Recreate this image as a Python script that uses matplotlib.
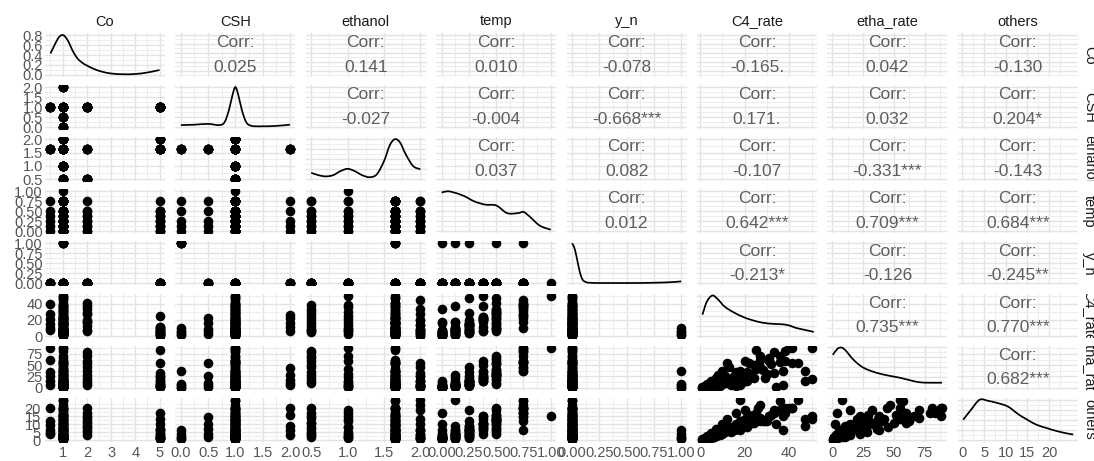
import numpy as np
import matplotlib
matplotlib.use("Agg")
import matplotlib.pyplot as plt
from matplotlib.path import Path
from matplotlib.patches import PathPatch

plt.rcParams['font.family'] = ['Liberation Sans', 'DejaVu Sans']

var_names = ["Co", "CSH", "ethanol", "temp", "y_n", "C4_rate", "etha_rate", "others"]

# ---------------- observations (one entry per run, grouped by catalyst) -------------
Co = [
    1, 1, 1, 1, 1,              # A1
    2, 2, 2, 2, 2,              # A2
    1, 1, 1, 1, 1, 1, 1,        # A3
    0.5, 0.5, 0.5, 0.5, 0.5, 0.5,  # A4
    2, 2, 2, 2, 2, 2,           # A5
    5, 5, 5, 5, 5, 5,           # A6
    1, 1, 1, 1, 1, 1,           # A7
    1, 1, 1, 1, 1, 1,           # A8
    1, 1, 1, 1, 1, 1,           # A9
    5, 5, 5, 5, 5,              # A10
    1, 1, 1, 1, 1,              # A11
    1, 1, 1, 1, 1,              # A12
    1, 1, 1, 1, 1,              # A13
    5, 5, 5, 5, 5,              # A14
    1, 1, 1, 1, 1,              # B1
    1, 1, 1, 1, 1,              # B2
    1, 1, 1, 1, 1,              # B3
    1, 1, 1, 1, 1,              # B4
    1, 1, 1, 1, 1,              # B5
    1, 1, 1, 1, 1,              # B6
    1, 1, 1, 1, 1,              # B7
]
CSH = [
    1, 1, 1, 1, 1,
    1, 1, 1, 1, 1,
    1, 1, 1, 1, 1, 1, 1,
    1, 1, 1, 1, 1, 1,
    1, 1, 1, 1, 1, 1,
    1, 1, 1, 1, 1, 1,
    1, 1, 1, 1, 1, 1,
    1, 1, 1, 1, 1, 1,
    1, 1, 1, 1, 1, 1,
    1, 1, 1, 1, 1,
    0, 0, 0, 0, 0,
    1, 1, 1, 1, 1,
    1, 1, 1, 1, 1,
    1, 1, 1, 1, 1,
    1, 1, 1, 1, 1,
    1, 1, 1, 1, 1,
    1, 1, 1, 1, 1,
    1, 1, 1, 1, 1,
    1, 1, 1, 1, 1,
    0.5, 0.5, 0.5, 0.5, 0.5,
    2, 2, 2, 2, 2,
]
ethanol = [
    1.65, 1.65, 1.65, 1.65, 1.65,
    1.65, 1.65, 1.65, 1.65, 1.65,
    1.0, 1.0, 1.0, 1.0, 1.0, 1.0, 1.0,
    1.65, 1.65, 1.65, 1.65, 1.65, 1.65,
    0.5, 0.5, 0.5, 0.5, 0.5, 0.5,
    1.65, 1.65, 1.65, 1.65, 1.65, 1.65,
    0.5, 0.5, 0.5, 0.5, 0.5, 0.5,
    1.0, 1.0, 1.0, 1.0, 1.0, 1.0,
    2.0, 2.0, 2.0, 2.0, 2.0, 2.0,
    2.0, 2.0, 2.0, 2.0, 2.0,
    1.65, 1.65, 1.65, 1.65, 1.65,
    1.65, 1.65, 1.65, 1.65, 1.65,
    1.65, 1.65, 1.65, 1.65, 1.65,
    1.65, 1.65, 1.65, 1.65, 1.65,
    1.65, 1.65, 1.65, 1.65, 1.65,
    1.65, 1.65, 1.65, 1.65, 1.65,
    1.65, 1.65, 1.65, 1.65, 1.65,
    1.65, 1.65, 1.65, 1.65, 1.65,
    2.0, 2.0, 2.0, 2.0, 2.0,
    1.65, 1.65, 1.65, 1.65, 1.65,
    1.65, 1.65, 1.65, 1.65, 1.65,
]
temp = [
    0, 0.125, 0.25, 0.375, 0.5,
    0, 0.125, 0.25, 0.375, 0.5,
    0, 0.125, 0.25, 0.375, 0.5, 0.75, 1.0,
    0, 0.125, 0.25, 0.375, 0.5, 0.75,
    0, 0.125, 0.25, 0.375, 0.5, 0.75,
    0, 0.125, 0.25, 0.375, 0.5, 0.75,
    0, 0.125, 0.25, 0.375, 0.5, 0.75,
    0, 0.125, 0.25, 0.375, 0.5, 0.75,
    0, 0.125, 0.25, 0.375, 0.5, 0.75,
    0, 0.125, 0.25, 0.375, 0.5,
    0, 0.125, 0.25, 0.5, 0.75,
    0, 0.125, 0.25, 0.375, 0.5,
    0, 0.125, 0.25, 0.375, 0.5,
    0, 0.125, 0.25, 0.375, 0.5,
    0, 0.125, 0.25, 0.5, 0.75,
    0, 0.125, 0.25, 0.5, 0.75,
    0, 0.125, 0.25, 0.5, 0.75,
    0, 0.125, 0.25, 0.5, 0.75,
    0, 0.125, 0.25, 0.5, 0.75,
    0, 0.125, 0.25, 0.5, 0.75,
    0, 0.125, 0.25, 0.5, 0.75,
]
y_n = [
    0, 0, 0, 0, 0,
    0, 0, 0, 0, 0,
    0, 0, 0, 0, 0, 0, 0,
    0, 0, 0, 0, 0, 0,
    0, 0, 0, 0, 0, 0,
    0, 0, 0, 0, 0, 0,
    0, 0, 0, 0, 0, 0,
    0, 0, 0, 0, 0, 0,
    0, 0, 0, 0, 0, 0,
    0, 0, 0, 0, 0,
    1, 1, 1, 1, 1,
    0, 0, 0, 0, 0,
    0, 0, 0, 0, 0,
    0, 0, 0, 0, 0,
    0, 0, 0, 0, 0,
    0, 0, 0, 0, 0,
    0, 0, 0, 0, 0,
    0, 0, 0, 0, 0,
    0, 0, 0, 0, 0,
    0, 0, 0, 0, 0,
    0, 0, 0, 0, 0,
]
C4_rate = [
    34, 37, 47, 50, 47,
    18, 17, 29, 37, 41,
    6, 9, 14, 21, 30, 38, 50,
    8, 10, 15, 21, 27, 40,
    6, 8, 13, 20, 27, 33,
    2, 3, 5, 7, 10, 25,
    5, 9, 16, 24, 31, 38,
    3, 6, 10, 17, 25, 36,
    4, 8, 14, 20, 33, 44,
    1, 2, 4, 6, 9,
    2, 3, 5, 7, 10,
    16, 18, 20, 24, 28,
    5, 9, 15, 22, 32,
    3, 5, 8, 11, 12,
    2, 4, 8, 16, 36,
    3, 6, 11, 23, 41,
    1, 2, 4, 9, 18,
    2, 4, 7, 14, 31,
    4, 8, 14, 20, 27,
    3, 6, 9, 16, 22,
    7, 11, 16, 22, 26,
]
etha_rate = [
    2, 6, 15, 20, 37,
    5, 10, 21, 38, 55,
    1, 3, 8, 16, 30, 60, 88,
    7, 14, 25, 36, 62, 88,
    14, 28, 45, 60, 70, 79,
    4, 8, 14, 22, 33, 83,
    10, 22, 36, 50, 66, 81,
    2, 5, 12, 24, 42, 70,
    1, 3, 7, 14, 32, 55,
    2, 4, 8, 14, 25,
    0.5, 2, 5, 9, 38,
    4, 8, 14, 22, 40,
    2, 6, 14, 28, 52,
    1, 4, 9, 27, 55,
    1, 3, 7, 19, 57,
    2, 5, 10, 30, 89,
    0.3, 1, 3, 10, 37,
    1, 3, 6, 17, 60,
    2, 7, 14, 25, 47,
    2, 5, 10, 26, 55,
    7, 11, 18, 29, 44,
]
others = [
    10, 6, 9, 13, 13,
    6, 9, 12, 15, 20,
    2, 3, 5, 8, 12, 17, 15,
    3.5, 4.6, 6.5, 9.5, 12, 20,
    3, 5, 8, 11, 14, 17,
    1, 2.3, 4.6, 6.8, 10, 17,
    2, 4, 7, 11, 15, 20,
    1, 2, 4, 8, 13, 19,
    1, 3.2, 6.5, 9.9, 18.7, 25.4,
    0.5, 1, 2, 4, 6.5,
    0.5, 1, 2, 4, 6,
    17, 25, 19, 15, 12,
    2, 4, 6, 10, 16,
    1, 1.5, 3, 6, 13.5,
    0.8, 1.5, 3, 7, 24.8,
    1.5, 3, 5, 11, 20,
    0.2, 0.5, 1.5, 5, 12,
    1, 2, 3, 8, 15,
    1, 3.2, 6.5, 13.2, 22,
    2, 3.5, 6.8, 10, 14.6,
    3, 6, 9, 15.6, 20,
]

# ---------------- correlation labels (upper triangle, row var vs column var) ------
corr_labels = [
    ["", "0.025", "0.141", "0.010", "-0.078", "-0.165.", "0.042", "-0.130"],
    ["", "", "-0.027", "-0.004", "-0.668***", "0.171.", "0.032", "0.204*"],
    ["", "", "", "0.037", "0.082", "-0.107", "-0.331***", "-0.143"],
    ["", "", "", "", "0.012", "0.642***", "0.709***", "0.684***"],
    ["", "", "", "", "", "-0.213*", "-0.126", "-0.245**"],
    ["", "", "", "", "", "", "0.735***", "0.770***"],
    ["", "", "", "", "", "", "", "0.682***"],
    ["", "", "", "", "", "", "", ""],
]

# ---------------- diagonal density curves -----------------------------------------
Co_dens_x = [0.5, 0.65, 0.8, 0.9, 1.0, 1.1, 1.25, 1.4, 1.6, 1.8, 2.0, 2.3, 2.6, 3.0, 3.5, 4.0, 4.5, 5.0]
Co_dens_y = [0.43, 0.58, 0.72, 0.78, 0.80, 0.77, 0.66, 0.50, 0.34, 0.25, 0.19, 0.12, 0.07, 0.03, 0.015, 0.02, 0.05, 0.10]
CSH_dens_x = [0.0, 0.25, 0.5, 0.7, 0.8, 0.88, 0.95, 1.0, 1.05, 1.12, 1.2, 1.3, 1.5, 1.75, 2.0]
CSH_dens_y = [0.05, 0.06, 0.08, 0.05, 0.12, 0.42, 0.82, 1.0, 0.82, 0.42, 0.12, 0.03, 0.02, 0.03, 0.06]
eth_dens_x = [0.5, 0.6, 0.7, 0.8, 0.9, 1.0, 1.1, 1.2, 1.3, 1.4, 1.5, 1.58, 1.65, 1.72, 1.8, 1.9, 2.0]
eth_dens_y = [0.16, 0.10, 0.07, 0.10, 0.20, 0.26, 0.20, 0.10, 0.05, 0.12, 0.45, 0.85, 1.0, 0.92, 0.62, 0.33, 0.25]
temp_dens_x = [0.0, 0.05, 0.1, 0.2, 0.3, 0.4, 0.5, 0.6, 0.7, 0.75, 0.8, 0.9, 1.0]
temp_dens_y = [0.96, 0.99, 0.97, 0.88, 0.74, 0.66, 0.64, 0.45, 0.45, 0.48, 0.38, 0.14, 0.04]
yn_dens_x = [0.0, 0.02, 0.04, 0.06, 0.08, 0.1, 0.13, 0.17, 0.25, 0.4, 0.6, 0.8, 0.9, 1.0]
yn_dens_y = [1.0, 0.9, 0.68, 0.42, 0.2, 0.08, 0.03, 0.015, 0.01, 0.01, 0.01, 0.02, 0.03, 0.05]
C4_dens_x = [1, 3, 5.5, 8, 11, 15, 19, 23, 28, 33, 37, 40, 43, 47, 51]
C4_dens_y = [0.52, 0.85, 1.0, 0.9, 0.72, 0.58, 0.47, 0.39, 0.32, 0.29, 0.28, 0.25, 0.19, 0.14, 0.09]
etha_dens_x = [0.3, 4, 7.5, 11, 15, 20, 25, 32, 40, 48, 55, 63, 71, 79, 89]
etha_dens_y = [0.80, 0.95, 0.98, 0.90, 0.75, 0.60, 0.49, 0.40, 0.33, 0.28, 0.24, 0.18, 0.13, 0.12, 0.12]
others_dens_x = [0.2, 2, 4, 6, 8, 10.5, 13, 15, 17, 19.5, 22, 24.5, 25.6]
others_dens_y = [0.5, 0.75, 1.0, 0.97, 0.92, 0.83, 0.63, 0.50, 0.38, 0.29, 0.21, 0.15, 0.13]

# ---------------- axis breaks and labels per variable -----------------------------
breaks = {
    "Co": ([1, 2, 3, 4, 5], ["1", "2", "3", "4", "5"]),
    "CSH": ([0, 0.5, 1, 1.5, 2], ["0.0", "0.5", "1.0", "1.5", "2.0"]),
    "ethanol": ([0.5, 1, 1.5, 2], ["0.5", "1.0", "1.5", "2.0"]),
    "temp": ([0, 0.25, 0.5, 0.75, 1], ["0.00", "0.25", "0.50", "0.75", "1.00"]),
    "y_n": ([0, 0.25, 0.5, 0.75, 1], ["0.00", "0.25", "0.50", "0.75", "1.00"]),
    "C4_rate": ([0, 20, 40], ["0", "20", "40"]),
    "etha_rate": ([0, 25, 50, 75], ["0", "25", "50", "75"]),
    "others": ([0, 5, 10, 15, 20], ["0", "5", "10", "15", "20"]),
}
density_row1_breaks = [0, 0.2, 0.4, 0.6, 0.8]
density_row1_labels = ["0.0", "0.2", "0.4", "0.6", "0.8"]
density_rel_breaks = [0, 0.25, 0.5, 0.75, 1.0]

data = {"Co": Co, "CSH": CSH, "ethanol": ethanol, "temp": temp, "y_n": y_n,
        "C4_rate": C4_rate, "etha_rate": etha_rate, "others": others}
dens = {"Co": (Co_dens_x, Co_dens_y), "CSH": (CSH_dens_x, CSH_dens_y),
        "ethanol": (eth_dens_x, eth_dens_y), "temp": (temp_dens_x, temp_dens_y),
        "y_n": (yn_dens_x, yn_dens_y), "C4_rate": (C4_dens_x, C4_dens_y),
        "etha_rate": (etha_dens_x, etha_dens_y), "others": (others_dens_x, others_dens_y)}

TICK_SIZE = 10.5
TICK_COLOR = "#555555"

# ---------------- helpers ----------------------------------------------------------
def limits(v):
    lo, hi = min(v), max(v)
    r = hi - lo
    return lo - 0.05 * r, hi + 0.05 * r


def minor_of(major, lim):
    major = list(major)
    step = major[1] - major[0]
    ext = [major[0] - step] + major + [major[-1] + step]
    mids = [(a + b) / 2 for a, b in zip(ext[:-1], ext[1:])]
    return [m for m in mids if lim[0] <= m <= lim[1]]


def smooth_curve(ax, xs, ys, **kw):
    pts = np.column_stack([xs, ys]).astype(float)
    n = len(pts)
    verts = [pts[0]]
    codes = [Path.MOVETO]
    for k in range(n - 1):
        p0 = pts[k - 1] if k > 0 else pts[k]
        p1 = pts[k]
        p2 = pts[k + 1]
        p3 = pts[k + 2] if k + 2 < n else pts[k + 1]
        c1 = p1 + (p2 - p0) / 6.0
        c2 = p2 - (p3 - p1) / 6.0
        verts += [c1, c2, p2]
        codes += [Path.CURVE4] * 3
    ax.add_patch(PathPatch(Path(verts, codes), fill=False, **kw))


def style_grid(ax, xmaj, xlim, ymaj, ylim):
    ax.set_xlim(*xlim)
    ax.set_ylim(*ylim)
    ax.set_xticks(xmaj)
    ax.set_yticks(ymaj)
    ax.set_xticks(minor_of(xmaj, xlim), minor=True)
    ax.set_yticks(minor_of(ymaj, ylim), minor=True)
    ax.grid(which="major", color="#E3E3E3", lw=1.0, zorder=0)
    ax.grid(which="minor", color="#EDEDED", lw=0.7, zorder=0)
    ax.set_axisbelow(True)
    for s in ax.spines.values():
        s.set_visible(False)
    ax.tick_params(which="both", length=0, labelsize=TICK_SIZE, colors=TICK_COLOR,
                   labelleft=False, labelbottom=False)


# ---------------- figure -----------------------------------------------------------
W, H = 1094, 461
fig = plt.figure(figsize=(W / 100, H / 100), dpi=100)
fig.patch.set_facecolor("white")

x0, xstep, pw = 45.0, 130.4, 120.0
y0, ystep, ph = 33.0, 52.1, 44.0
n = len(var_names)

for i in range(n):
    for j in range(n):
        left = x0 + j * xstep
        top = y0 + i * ystep
        ax = fig.add_axes([left / W, 1 - (top + ph) / H, pw / W, ph / H])
        xv = var_names[j]
        yv = var_names[i]
        xlim = limits(data[xv])
        xmaj, xlab = breaks[xv]
        if i == j:
            dx, dy = dens[xv]
            m = max(dy)
            ylim = (-0.05 * m, 1.05 * m)
            ymaj = density_row1_breaks if i == 0 else density_rel_breaks
            style_grid(ax, xmaj, xlim, ymaj, ylim)
            smooth_curve(ax, dx, dy, lw=1.25, color="black", zorder=3)
            if i == 0:
                ax.set_yticklabels(density_row1_labels)
        else:
            ylim = limits(data[yv])
            ymaj, ylab = breaks[yv]
            style_grid(ax, xmaj, xlim, ymaj, ylim)
            ax.set_yticklabels(ylab)
            if i > j:
                ax.scatter(data[xv], data[yv], s=48, color="black",
                           linewidths=0, zorder=3)
            else:
                ax.text(0.5, 0.78, "Corr:", transform=ax.transAxes, ha="center",
                        va="center", fontsize=12.5, color="#5E5E5E")
                ax.text(0.5, 0.22, corr_labels[i][j], transform=ax.transAxes,
                        ha="center", va="center", fontsize=12.5, color="#5E5E5E")
        ax.set_xticklabels(xlab)
        if j == 0:
            ax.tick_params(labelleft=True, pad=1.5)
        if i == n - 1:
            ax.tick_params(labelbottom=True, pad=3)

# top strips
for j, name in enumerate(var_names):
    cx = x0 + j * xstep + pw / 2
    fig.text(cx / W, 1 - 21.5 / H, name, ha="center", va="center",
             fontsize=10.5, color="#1A1A1A")

# right strips (clipped to the strip box)
for i, name in enumerate(var_names):
    top = y0 + i * ystep
    sax = fig.add_axes([1081 / W, 1 - (top + ph) / H, 16 / W, ph / H])
    sax.set_axis_off()
    t = sax.text(0.5, 0.5, name, transform=sax.transAxes, ha="center", va="center",
                 rotation=-90, fontsize=10.5, color="#1A1A1A", clip_on=True)
    t.set_clip_box(sax.bbox)

fig.savefig("out.png", dpi=100, facecolor="white")
